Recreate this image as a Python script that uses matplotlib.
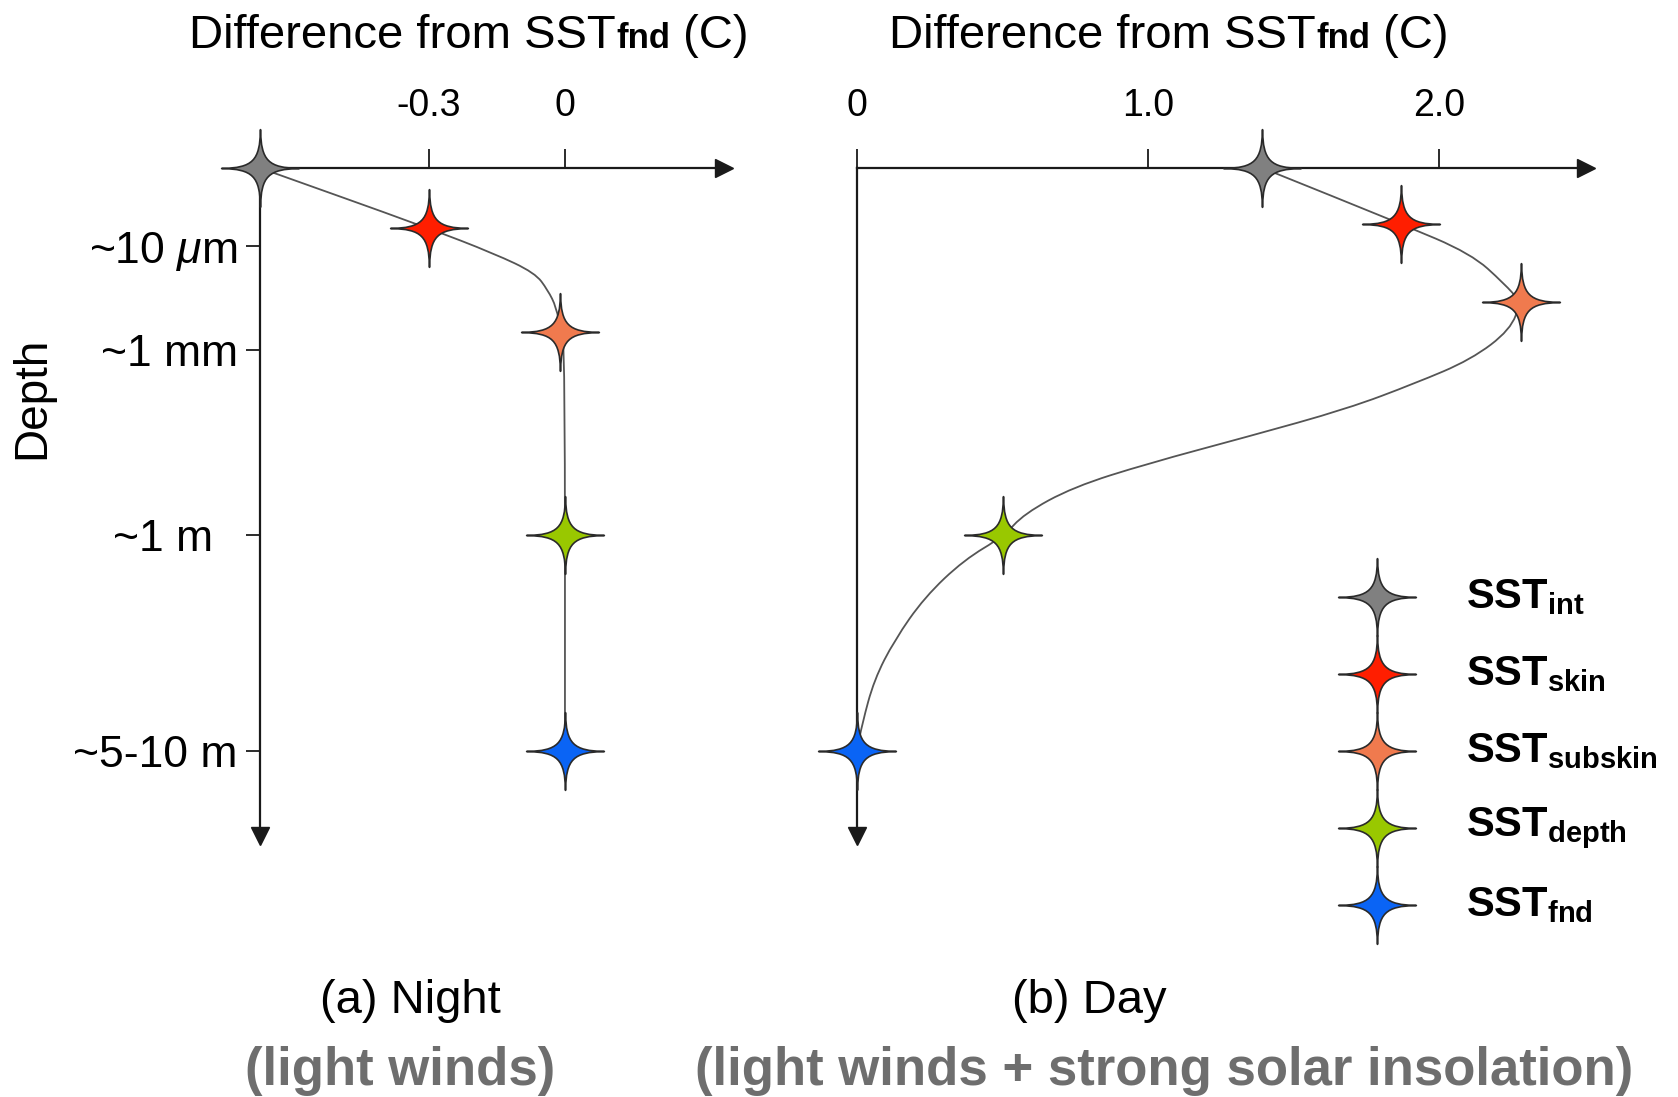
import numpy as np
import matplotlib
matplotlib.use("Agg")
import matplotlib.pyplot as plt
from matplotlib.path import Path
from matplotlib.patches import PathPatch
from matplotlib.offsetbox import TextArea, HPacker, AnnotationBbox

plt.rcParams['font.family'] = ['Liberation Sans', 'DejaVu Sans']
plt.rcParams['mathtext.fontset'] = 'custom'
plt.rcParams['mathtext.rm'] = 'Liberation Sans'
plt.rcParams['mathtext.it'] = 'Liberation Sans:italic'
plt.rcParams['mathtext.bf'] = 'Liberation Sans:bold'

# schematic depth levels (not to scale)
depth_labels = ["~10 $\\mu$m", "~1 mm", "~1 m  ", "~5-10 m"]
depth_pos = [0.73, 1.70, 3.43, 5.45]

series = ["int", "skin", "subskin", "depth", "fnd"]
colors = ["#808080", "#ff1e00", "#f07a4e", "#99c800", "#0a64f5"]

# (a) night: difference from SSTfnd (C) and depth of each SST
night_dT = [-0.673, -0.30, -0.01, 0.0, 0.0]
night_z = [0.0, 0.56, 1.53, 3.43, 5.45]
# (b) day
day_dT = [1.39, 1.87, 2.28, 0.50, 0.0]
day_z = [0.0, 0.52, 1.25, 3.43, 5.45]

# profile curves
night_curve_dT = [-0.673, -0.302, -0.156, -0.066, -0.038, -0.019, -0.009, 0.0, 0.0]
night_curve_z = [0.0, 0.56, 0.80, 0.98, 1.14, 1.30, 1.53, 1.73, 5.45]
day_curve_dT = [1.393, 1.868, 2.11, 2.224, 2.28, 2.246, 2.11, 1.919, 1.684, 1.342,
                1.0, 0.743, 0.574, 0.504, 0.368, 0.232, 0.129, 0.059, 0.018, 0.0]
day_curve_z = [0.0, 0.52, 0.80, 1.08, 1.25, 1.51, 1.79, 2.01, 2.25, 2.51,
               2.76, 2.98, 3.23, 3.44, 3.66, 4.01, 4.41, 4.78, 5.19, 5.44]

AX_COLOR = "#1a1a1a"
LINE_COLOR = "#555555"


def star_marker(near=0.015, far=0.2):
    # four pointed star with concave sides
    tips = [(0, 1), (1, 0), (0, -1), (-1, 0)]
    verts = [tips[0]]
    codes = [Path.MOVETO]
    for i in range(4):
        p0 = np.array(tips[i], float)
        p1 = np.array(tips[(i + 1) % 4], float)
        c0 = p0 * far + p1 * near
        c1 = p1 * far + p0 * near
        verts += [tuple(c0), tuple(c1), tuple(p1)]
        codes += [Path.CURVE4] * 3
    verts.append(tips[0])
    codes.append(Path.CLOSEPOLY)
    return Path(verts, codes)


STAR = star_marker()


def smooth_path(xs, ys):
    pts = np.column_stack([xs, ys])
    verts = [pts[0], (pts[0] + pts[1]) / 2]
    codes = [Path.MOVETO, Path.LINETO]
    for i in range(1, len(pts) - 1):
        verts += [pts[i], (pts[i] + pts[i + 1]) / 2]
        codes += [Path.CURVE3, Path.CURVE3]
    verts.append(pts[-1])
    codes.append(Path.LINETO)
    return Path(verts, codes)


def draw_panel(ax, xlim, xticks, xticklabels, cx, cz, px, pz, with_depth):
    ax.set_xlim(xlim)
    ax.set_ylim(6.24, 0)
    ax.patch.set_visible(False)
    for s in ["right", "bottom"]:
        ax.spines[s].set_visible(False)
    for s in ["left", "top"]:
        ax.spines[s].set_linewidth(1.6)
        ax.spines[s].set_color(AX_COLOR)
    ax.xaxis.tick_top()
    ax.set_xticks(xticks)
    ax.set_xticklabels(xticklabels)
    ax.tick_params(axis="x", direction="out", length=14, width=1.3,
                   pad=18, labelsize=27, color=AX_COLOR)
    if with_depth:
        ax.set_yticks(depth_pos)
        ax.set_yticklabels(depth_labels)
        ax.tick_params(axis="y", direction="out", length=10, width=1.3,
                       pad=6, labelsize=32, color=AX_COLOR)
    else:
        ax.set_yticks([])
    # arrow heads
    ax.plot(1, 1, ">", color=AX_COLOR, ms=13, transform=ax.transAxes, clip_on=False)
    ax.plot(0, 0, "v", color=AX_COLOR, ms=13, transform=ax.transAxes, clip_on=False)

    ax.add_patch(PathPatch(smooth_path(cx, cz), fill=False, ec=LINE_COLOR,
                           lw=1.3, zorder=3, clip_on=False))
    for x, z, c in zip(px, pz, colors):
        ax.plot(x, z, marker=STAR, ms=56, mfc=c, mec="#2a2a2a", mew=1.2,
                ls="none", zorder=4, clip_on=False)


W, H = 1678, 1097
fig = plt.figure(figsize=(W / 100, H / 100), dpi=100)

ax1 = fig.add_axes([260 / W, 1 - 836 / H, 464 / W, 668 / H])
draw_panel(ax1, (-0.673, 0.351), [-0.3, 0], ["-0.3", "0"],
           night_curve_dT, night_curve_z, night_dT, night_z, True)

ax2 = fig.add_axes([857 / W, 1 - 836 / H, 729 / W, 668 / H])
draw_panel(ax2, (0, 2.505), [0, 1.0, 2.0], ["0", "1.0", "2.0"],
           day_curve_dT, day_curve_z, day_dT, day_z, False)

# titles "Difference from SSTfnd (C)"
for xc in [469, 1169]:
    pack = HPacker(children=[
        TextArea("Difference from SST", textprops=dict(size=34)),
        TextArea("fnd", textprops=dict(size=25, weight="bold")),
        TextArea(" (C)", textprops=dict(size=34)),
    ], align="baseline", pad=0, sep=0)
    ab = AnnotationBbox(pack, (xc / W, 1 - 36 / H), xycoords="figure fraction",
                        frameon=False, box_alignment=(0.5, 0.5))
    fig.add_artist(ab)

fig.text(32 / W, 1 - 398 / H, "Depth", rotation=90, ha="center", va="center", size=33)

# legend
leg = fig.add_axes([1330 / W, 1 - 943.5 / H, 348 / W, 385 / H])
leg.set_xlim(0, 1)
leg.set_ylim(len(series) - 0.5, -0.5)
leg.axis("off")
for i, (name, c) in enumerate(zip(series, colors)):
    leg.plot(0.135, i, marker=STAR, ms=56, mfc=c, mec="#2a2a2a", mew=1.2,
             ls="none", clip_on=False)
    leg.text(0.39, i, "$\\mathbf{SST}_{\\mathbf{%s}}$" % name, size=30,
             ha="left", va="center")

# panel captions
fig.text(410 / W, 1 - 1001 / H, "(a) Night", ha="center", va="center", size=34)
fig.text(1089 / W, 1 - 1001 / H, "(b) Day", ha="center", va="center", size=34)
fig.text(400 / W, 1 - 1071 / H, "(light winds)", ha="center", va="center",
         size=38, weight="bold", color="#6e6e6e")
fig.text(1164 / W, 1 - 1071 / H, "(light winds + strong solar insolation)",
         ha="center", va="center", size=38, weight="bold", color="#6e6e6e")

fig.savefig("out.png", dpi=100)
